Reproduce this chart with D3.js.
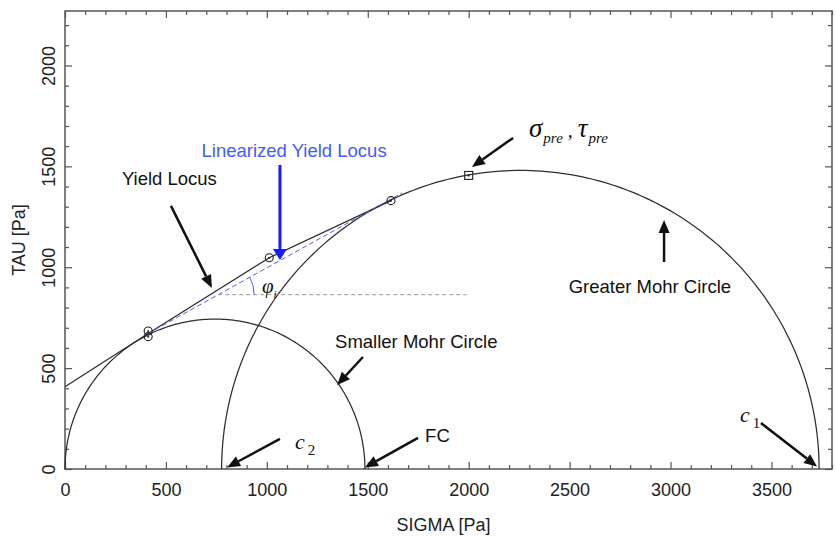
<!DOCTYPE html>
<html>
<head>
<meta charset="utf-8">
<script src="https://cdn.jsdelivr.net/npm/d3@7"></script>
<style>
  body { margin: 0; background: #fff; }
  svg { display: block; }
</style>
</head>
<body>
<svg id="chart" width="836" height="537"></svg>
<script>
// ---- data (stresses in Pa) ----
// Mohr circles given by their principal stresses [sigma2, sigma1]
const smallerCircle = [0, 1486];
const greaterCircle = [776, 3736];

// Yield locus through the shear points
const yieldLocusSigma = [0, 412, 1012, 1615];
const yieldLocusTau   = [408, 672, 1047, 1330];

// Measured shear points
const shearSigma = [412, 412, 1012, 1615];
const shearTau   = [684, 656, 1047, 1330];

// Pre-shear point (sigma_pre, tau_pre)
const preShear = [2000, 1455];

// Linearized yield locus (end points)
const linearSigma = [412, 1670];
const linearTau   = [672, 1368];

// Horizontal reference line used for the angle phi_i
const refTau = 864;
const refSigmaEnd = 1990;

// Axis ticks
const xMajorTicks = [0, 500, 1000, 1500, 2000, 2500, 3000, 3500];
const yMajorTicks = [0, 500, 1000, 1500, 2000];
const minorStep = 100;

// ---- layout ----
const svg = d3.select("#chart");
const plotL = 65, plotR = 832, plotT = 11, plotB = 469;
const x = d3.scaleLinear().domain([0, 3800]).range([plotL, plotR]);
const y = d3.scaleLinear().domain([0, 2270]).range([plotB, plotT]);

const ink = "#2e2e2e";
const frameColor = "#555";
const sans = "'Liberation Sans', Arial, sans-serif";
const serif = "'Liberation Serif', 'Times New Roman', serif";

// ---- axes (ticks point inward on all four sides) ----
const xMinor = d3.range(0, 3801, minorStep).filter(v => v % 500 !== 0);
const yMinor = d3.range(0, 2271, minorStep).filter(v => v % 500 !== 0);
const xAllMajor = d3.range(0, 3801, 500);

function styleAxis(g) {
  g.select(".domain").remove();
  g.selectAll(".tick line").attr("stroke", frameColor).attr("stroke-width", 1.2);
}

// bottom
svg.append("g").attr("transform", `translate(0,${plotB})`)
  .call(d3.axisBottom(x).tickValues(xMinor).tickSize(-4).tickFormat(""))
  .call(styleAxis);
const xAxisG = svg.append("g").attr("transform", `translate(0,${plotB})`)
  .call(d3.axisBottom(x).tickValues(xMajorTicks).tickSize(-7).tickPadding(14).tickFormat(d3.format("d")))
  .call(styleAxis);
xAxisG.selectAll("text").attr("font-family", sans).attr("font-size", 18).attr("fill", "#222");

// top
svg.append("g").attr("transform", `translate(0,${plotT})`)
  .call(d3.axisTop(x).tickValues(xMinor).tickSize(-4).tickFormat(""))
  .call(styleAxis);
svg.append("g").attr("transform", `translate(0,${plotT})`)
  .call(d3.axisTop(x).tickValues(xAllMajor).tickSize(-7).tickFormat(""))
  .call(styleAxis);

// left
svg.append("g").attr("transform", `translate(${plotL},0)`)
  .call(d3.axisLeft(y).tickValues(yMinor).tickSize(-4).tickFormat(""))
  .call(styleAxis);
const yAxisG = svg.append("g").attr("transform", `translate(${plotL},0)`)
  .call(d3.axisLeft(y).tickValues(yMajorTicks).tickSize(-7).tickFormat(d3.format("d")))
  .call(styleAxis);
yAxisG.selectAll("text")
  .attr("font-family", sans).attr("font-size", 18).attr("fill", "#222")
  .attr("x", null).attr("dy", null)
  .attr("text-anchor", "middle")
  .attr("transform", "translate(-10,0) rotate(-90)");

// right
svg.append("g").attr("transform", `translate(${plotR},0)`)
  .call(d3.axisRight(y).tickValues(yMinor).tickSize(-4).tickFormat(""))
  .call(styleAxis);
svg.append("g").attr("transform", `translate(${plotR},0)`)
  .call(d3.axisRight(y).tickValues(yMajorTicks).tickSize(-7).tickFormat(""))
  .call(styleAxis);

// frame
svg.append("rect")
  .attr("x", plotL).attr("y", plotT)
  .attr("width", plotR - plotL).attr("height", plotB - plotT)
  .attr("fill", "none").attr("stroke", frameColor).attr("stroke-width", 1.5);

// axis titles
svg.append("text")
  .attr("x", (plotL + plotR) / 2 - 5).attr("y", 531)
  .attr("text-anchor", "middle")
  .attr("font-family", sans).attr("font-size", 18).attr("fill", "#222")
  .text("SIGMA [Pa]");
svg.append("text")
  .attr("transform", `translate(25,${(plotT + plotB) / 2}) rotate(-90)`)
  .attr("text-anchor", "middle")
  .attr("font-family", sans).attr("font-size", 18).attr("fill", "#222")
  .text("TAU [Pa]");

// ---- curves ----
const line = d3.line().x(d => x(d[0])).y(d => y(d[1]));

function mohrPoints([s2, s1]) {
  const c = (s1 + s2) / 2, r = (s1 - s2) / 2;
  return d3.range(0, 181, 1).map(a => {
    const t = Math.PI * a / 180;
    return [c - r * Math.cos(t), r * Math.sin(t)];
  });
}

const curves = svg.append("g").attr("fill", "none");
curves.append("path").attr("d", line(mohrPoints(smallerCircle)))
  .attr("stroke", ink).attr("stroke-width", 1.25);
curves.append("path").attr("d", line(mohrPoints(greaterCircle)))
  .attr("stroke", ink).attr("stroke-width", 1.25);

// yield locus
curves.append("path")
  .attr("d", line(d3.zip(yieldLocusSigma, yieldLocusTau)))
  .attr("stroke", ink).attr("stroke-width", 1.25);

// linearized yield locus
curves.append("path")
  .attr("d", line(d3.zip(linearSigma, linearTau)))
  .attr("stroke", "#4f5fe6").attr("stroke-width", 1).attr("stroke-dasharray", "5,3");

// horizontal reference line starting on the linearized locus
const slope = (linearTau[1] - linearTau[0]) / (linearSigma[1] - linearSigma[0]);
const refSigmaStart = linearSigma[0] + (refTau - linearTau[0]) / slope;
curves.append("path")
  .attr("d", line([[refSigmaStart, refTau], [refSigmaEnd, refTau]]))
  .attr("stroke", "#999").attr("stroke-width", 1).attr("stroke-dasharray", "4,3");

// angle arc for phi_i
const cx = x(refSigmaStart), cy = y(refTau);
const theta = Math.atan2(y(linearTau[0]) - y(linearTau[1]), x(linearSigma[1]) - x(linearSigma[0]));
const ar = 36;
curves.append("path")
  .attr("d", `M${cx + ar},${cy} A${ar},${ar} 0 0 0 ${cx + ar * Math.cos(theta)},${cy - ar * Math.sin(theta)}`)
  .attr("stroke", "#4f5fe6").attr("stroke-width", 1);

// ---- markers ----
const marks = svg.append("g");
d3.zip(shearSigma, shearTau).forEach(([s, t]) => {
  marks.append("circle").attr("cx", x(s)).attr("cy", y(t)).attr("r", 4)
    .attr("fill", "none").attr("stroke", "#222").attr("stroke-width", 1.1);
  marks.append("circle").attr("cx", x(s)).attr("cy", y(t)).attr("r", 1)
    .attr("fill", "#222");
});
marks.append("rect")
  .attr("x", x(preShear[0]) - 4).attr("y", y(preShear[1]) - 4)
  .attr("width", 8).attr("height", 8)
  .attr("fill", "none").attr("stroke", "#222").attr("stroke-width", 1.1);
marks.append("rect")
  .attr("x", x(preShear[0]) - 1).attr("y", y(preShear[1]) - 1)
  .attr("width", 2).attr("height", 2).attr("fill", "#222");

// ---- annotation arrows ----
function arrow(s1, t1, s2, t2, color, width, headLen, headW) {
  const x1 = x(s1), y1 = y(t1), x2 = x(s2), y2 = y(t2);
  const a = Math.atan2(y2 - y1, x2 - x1);
  const bx = x2 - headLen * Math.cos(a), by = y2 - headLen * Math.sin(a);
  svg.append("line")
    .attr("x1", x1).attr("y1", y1).attr("x2", bx).attr("y2", by)
    .attr("stroke", color).attr("stroke-width", width);
  const px = -Math.sin(a) * headW / 2, py = Math.cos(a) * headW / 2;
  svg.append("polygon")
    .attr("points", `${x2},${y2} ${bx + px},${by + py} ${bx - px},${by - py}`)
    .attr("fill", color);
}

arrow(525, 1304, 728, 897, "#111", 2.5, 13, 11);     // Yield Locus
arrow(1065, 1507, 1065, 1036, "#1a1aff", 3, 11, 14); // Linearized Yield Locus
arrow(2220, 1641, 2016, 1497, "#111", 2.5, 13, 11);  // sigma_pre, tau_pre
arrow(2968, 1026, 2968, 1234, "#111", 2.5, 13, 11);  // Greater Mohr Circle
arrow(1476, 555, 1348, 416, "#111", 2.5, 13, 11);    // Smaller Mohr Circle
arrow(1065, 149, 803, 8, "#111", 2.5, 13, 11);       // c2
arrow(1749, 154, 1486, 8, "#111", 2.5, 13, 11);      // FC
arrow(3448, 228, 3726, 12, "#111", 2.5, 13, 11);     // c1

// ---- annotation texts ----
function label(s, t, txt, anchor, color) {
  return svg.append("text")
    .attr("x", x(s)).attr("y", y(t))
    .attr("text-anchor", anchor || "start")
    .attr("font-family", sans).attr("font-size", 18.5)
    .attr("fill", color || "#111")
    .text(txt);
}
label(282, 1408, "Yield Locus");
label(1135, 1546, "Linearized Yield Locus", "middle", "#3f5cff");
label(2898, 872, "Greater Mohr Circle", "middle");
label(1338, 600, "Smaller Mohr Circle");
label(1784, 134, "FC");

// sigma_pre , tau_pre
const pre = svg.append("text")
  .attr("x", x(2299)).attr("y", y(1646))
  .attr("font-family", serif).attr("font-style", "italic").attr("fill", "#111");
pre.append("tspan").attr("font-size", 27).text("σ");
pre.append("tspan").attr("font-size", 15).attr("dx", 1).attr("dy", 6).text("pre");
pre.append("tspan").attr("font-size", 20).attr("dy", -6).text(" , ");
pre.append("tspan").attr("font-size", 27).text("τ");
pre.append("tspan").attr("font-size", 15).attr("dx", 1).attr("dy", 6).text("pre");

// phi_i
const phi = svg.append("text")
  .attr("x", x(976)).attr("y", y(872))
  .attr("font-family", serif).attr("font-style", "italic").attr("fill", "#111");
phi.append("tspan").attr("font-size", 21).text("φ");
phi.append("tspan").attr("font-size", 11).attr("dy", 5).text("i");

// c2 and c1
function cLabel(s, t, sub) {
  const g = svg.append("text")
    .attr("x", x(s)).attr("y", y(t))
    .attr("font-family", serif).attr("fill", "#111");
  g.append("tspan").attr("font-size", 22).attr("font-style", "italic").text("c");
  g.append("tspan").attr("font-size", 15).attr("dx", 3).attr("dy", 6).text(sub);
}
cLabel(1140, 100, "2");
cLabel(3344, 233, "1");
</script>
</body>
</html>
